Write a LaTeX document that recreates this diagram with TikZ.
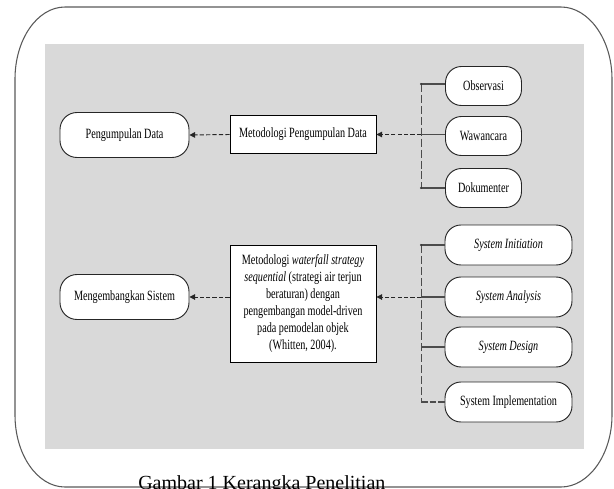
\documentclass[tikz,border=0pt]{standalone}
\usepackage{fontspec}
\setmainfont{Liberation Serif}
\newfontfamily\narrowfont[FakeStretch=0.72]{Liberation Serif}
\usetikzlibrary{arrows.meta}
\newcommand{\pxu}{0.75pt}
\tikzset{
  lbl/.style={font=\narrowfont\fontsize{10.6pt}{12.75pt}\selectfont, inner sep=0pt, align=center},
  pill/.style={lbl, draw=black!85, fill=white, line width=0.7pt, rounded corners=17*\pxu},
  bigpill/.style={pill, minimum width=129*\pxu, minimum height=45*\pxu},
  smallpill/.style={pill, minimum height=39*\pxu, rounded corners=16*\pxu},
  methodbox/.style={lbl, draw=black, fill=white, line width=0.7pt, minimum width=146*\pxu},
  flow/.style={draw=black!85, line width=0.7pt, dash pattern=on 3.2pt off 1.6pt, -{Triangle[length=4.2pt,width=4.2pt]}},
  spine/.style={draw=black!70, line width=0.6pt, dash pattern=on 6pt off 2.2pt},
  branch/.style={draw=black!70, line width=0.8pt},
  frame/.style={draw=black!65, line width=0.8pt}
}
\begin{document}
\begin{tikzpicture}[x=\pxu, y=-\pxu]
\useasboundingbox (0,0) rectangle (614,489);
\clip (0,0) rectangle (614,489);

% outer frame with elliptical corners
\draw[frame] (65,7) -- (561,7)
  .. controls (588.6,7) and (612,39.3) .. (612,79)
  -- (612,415)
  .. controls (612,454.7) and (588.6,487) .. (561,487)
  -- (65,487)
  .. controls (37.4,487) and (15,454.7) .. (15,415)
  -- (15,79)
  .. controls (15,39.3) and (37.4,7) .. (65,7) -- cycle;

% grey panel
\fill[fill={rgb,255:red,217;green,217;blue,217}] (45,44) rectangle (584,449);

% data collection branch
\node[bigpill] (pd) at (124.5,135) {Pengumpulan Data};
\node[methodbox, minimum height=38*\pxu] (mpd) at (303,134.5) {Metodologi Pengumpulan Data};
\node[smallpill, minimum width=76*\pxu] (obs) at (483.5,86) {Observasi};
\node[smallpill, minimum width=76*\pxu] (waw) at (483.5,136) {Wawancara};
\node[smallpill, minimum width=76*\pxu] (dok) at (483.5,188) {Dokumenter};

\coordinate (a1) at (421,84);
\coordinate (a2) at (421,134.5);
\coordinate (a3) at (421,188);

\draw[spine] (a1) -- (a3);
\draw[branch] (a1) -- (a1 -| obs.west);
\draw[branch] (a2) -- (a2 -| waw.west);
\draw[branch] (a3) -- (dok.west);
\fill[black!80] (a1) circle (0.8pt) (a3) circle (0.8pt);
\draw[flow] (a2) -- (mpd.east);
\draw[flow] (mpd.west) -- (pd.east);

% system development branch
\node[bigpill] (ms) at (124.5,297) {Mengembangkan Sistem};
\node[methodbox, minimum height=117*\pxu] (mws) at (303,303.5)
  {Metodologi \textit{waterfall strategy}\\
   \textit{sequential} (strategi air terjun\\
   beraturan) dengan\\
   pengembangan model-driven\\
   pada pemodelan objek\\
   (Whitten, 2004).};
\node[smallpill, minimum width=127*\pxu, minimum height=40*\pxu] (si) at (508.5,245) {\textit{System Initiation}};
\node[smallpill, minimum width=127*\pxu, minimum height=40*\pxu] (sa) at (508.5,297) {\textit{System Analysis}};
\node[smallpill, minimum width=127*\pxu, minimum height=40*\pxu] (sd) at (508.5,347) {\textit{System Design}};
\node[smallpill, minimum width=127*\pxu, minimum height=40*\pxu] (sim) at (508.5,402) {System Implementation};

\coordinate (b1) at (421,245);
\coordinate (b2) at (421,297);
\coordinate (b3) at (421,347);
\coordinate (b4) at (421,402);

\draw[spine] (b1) -- (b4);
\draw[branch] (b1) -- (si.west);
\draw[branch] (b2) -- (sa.west);
\draw[branch] (b3) -- (sd.west);
\draw[branch, dash pattern=on 5pt off 1.5pt] (b4) -- (sim.west);
\fill[black!80] (b1) circle (0.8pt);
\draw[flow] (b2) -- (mws.east |- b2);
\draw[flow] (mws.west |- b2) -- (ms.east);

% caption
\node[anchor=base west, inner sep=0pt, font=\fontsize{15pt}{18pt}\selectfont] (cap) at (138,489) {Gambar 1 Kerangka Penelitian};
\end{tikzpicture}
\end{document}
